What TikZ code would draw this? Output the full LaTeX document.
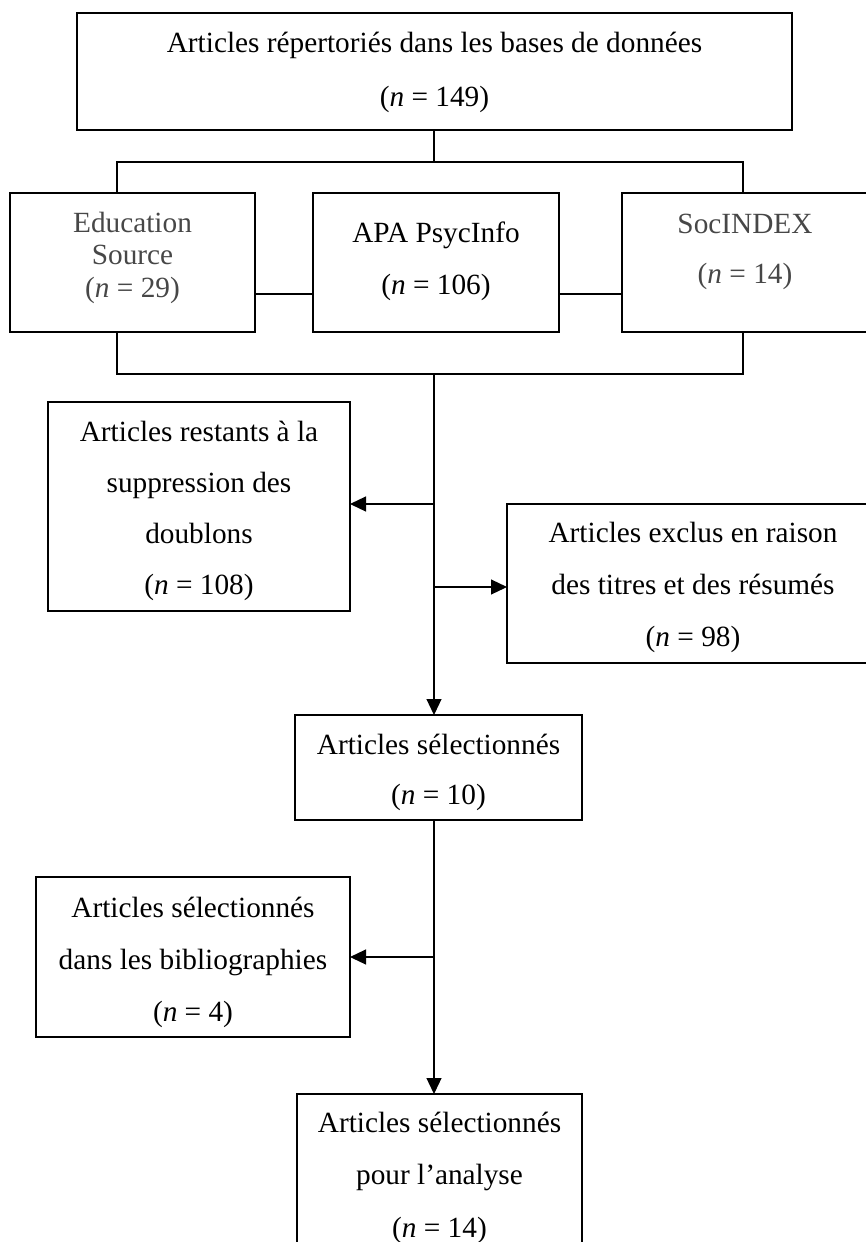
\documentclass[tikz,border=0pt]{standalone}
\usepackage{fontspec}
\setmainfont{Liberation Serif}
\usetikzlibrary{arrows.meta}
\begin{document}
\begin{tikzpicture}[x=1pt,y=-1pt,
  box/.style={draw, line width=1.2pt, inner sep=0pt, outer sep=0pt, rectangle},
  txt/.style={align=center, inner sep=0pt, font=\fontsize{29.3}{52}\selectfont},
  gtxt/.style={txt, text=black!72},
  conn/.style={line width=1.2pt},
  arr/.style={conn, -{Triangle[length=16pt,width=15pt]}}]
\useasboundingbox (0,0) rectangle (865,1242);
% boxes
\node[box, minimum width=715pt, minimum height=117pt] (top) at (434.5,71.5) {};
\node[box, minimum width=245pt, minimum height=139pt] (edu) at (132.5,262.5) {};
\node[box, minimum width=246pt, minimum height=139pt] (apa) at (436,262.5) {};
\node[box, minimum width=246pt, minimum height=139pt] (soc) at (745,262.5) {};
\node[box, minimum width=302pt, minimum height=209pt] (rest) at (199,506.5) {};
\node[box, minimum width=372pt, minimum height=159pt] (excl) at (693,583.5) {};
\node[box, minimum width=287pt, minimum height=105pt] (sel) at (438.5,767.5) {};
\node[box, minimum width=314pt, minimum height=160pt] (bib) at (193,957) {};
\node[box, minimum width=285pt, minimum height=161pt] (fin) at (439.5,1174.5) {};
% texts
\node[txt, font=\fontsize{29.3}{54}\selectfont] (topT) at (434.5,72) {Articles répertoriés dans les bases de données\\(\textit{n} = 149)};
\node[gtxt, font=\fontsize{29.3}{32.5}\selectfont] (eduT) at (132.5,257.5) {Education\\Source\\(\textit{n} = 29)};
\node[txt] (apaT) at (436,261) {APA PsycInfo\\(\textit{n} = 106)};
\node[gtxt, font=\fontsize{29.3}{50}\selectfont] (socT) at (745,252) {SocINDEX\\(\textit{n} = 14)};
\node[txt, font=\fontsize{29.3}{51}\selectfont] (restT) at (199,510.5) {Articles restants à la\\suppression des\\doublons\\(\textit{n} = 108)};
\node[txt] (exclT) at (693,587) {Articles exclus en raison\\des titres et des résumés\\(\textit{n} = 98)};
\node[txt, font=\fontsize{29.3}{50}\selectfont] (selT) at (438.5,772) {Articles sélectionnés\\(\textit{n} = 10)};
\node[txt] (bibT) at (193,962) {Articles sélectionnés\\dans les bibliographies\\(\textit{n} = 4)};
\node[txt, font=\fontsize{29.3}{52.5}\selectfont] (finT) at (439.5,1177.5) {Articles sélectionnés\\pour l’analyse\\(\textit{n} = 14)};
% connectors
\coordinate (jT) at (434,162);
\coordinate (jL) at (117,162);
\coordinate (jR) at (743,162);
\draw[conn] (top.south -| jT) -- (jT);
\draw[conn] (edu.north -| jL) -- (jL) -- (jR) -- (soc.north -| jR);
\coordinate (hA) at (0,294);
\draw[conn] (edu.east |- hA) -- (apa.west |- hA);
\draw[conn] (apa.east |- hA) -- (soc.west |- hA);
\coordinate (kL) at (117,374);
\coordinate (kR) at (743,374);
\coordinate (kB) at (434,374);
\draw[conn] (edu.south -| kL) -- (kL) -- (kR) -- (soc.south -| kR);
\draw[arr] (kB) -- (sel.north -| kB);
\coordinate (aL) at (434,504);
\draw[arr] (aL) -- (rest.east |- aL);
\coordinate (aR) at (434,587);
\draw[arr] (aR) -- (excl.west |- aR);
\draw[arr] (sel.south -| kB) -- (fin.north -| kB);
\coordinate (aB) at (434,957);
\draw[arr] (aB) -- (bib.east |- aB);
\end{tikzpicture}
\end{document}
